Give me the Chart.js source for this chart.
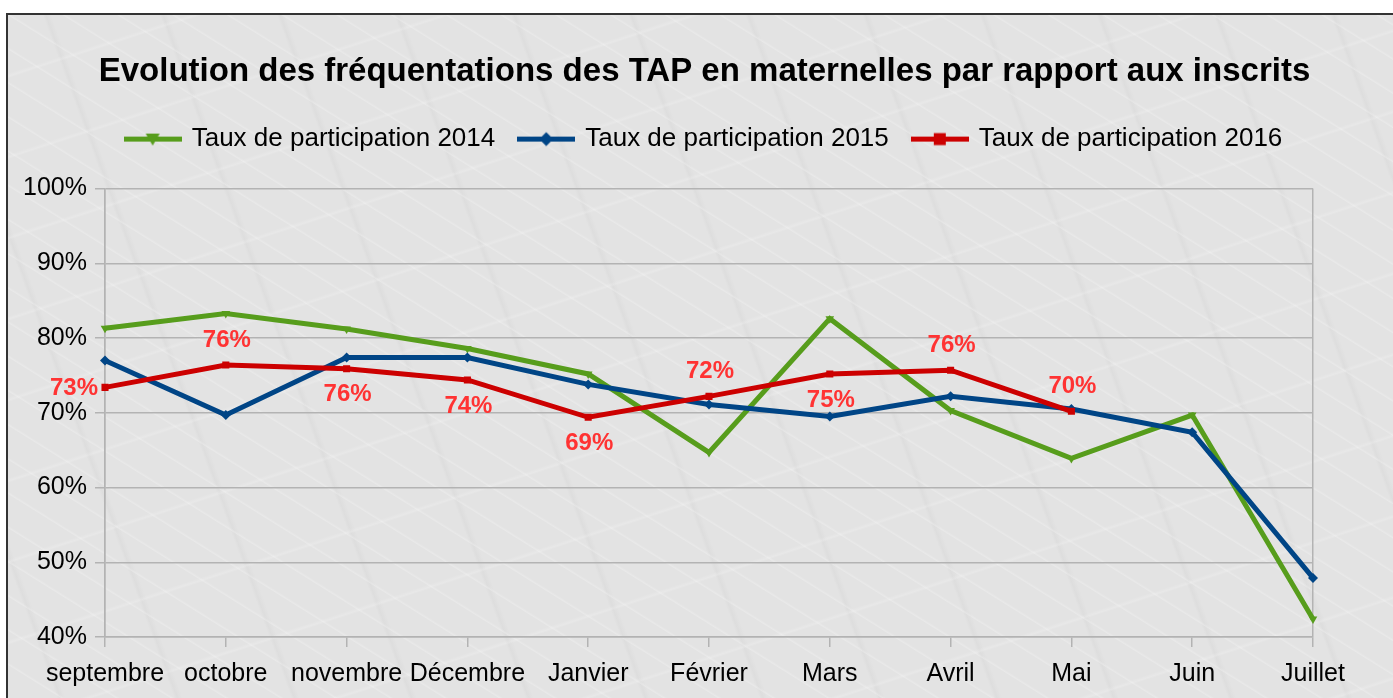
<!DOCTYPE html>
<html lang="fr">
<head>
<meta charset="utf-8">
<title>Evolution des fréquentations des TAP</title>
<script src="https://cdn.jsdelivr.net/npm/chart.js@4.4.0/dist/chart.umd.min.js"></script>
<style>
  html, body { margin: 0; padding: 0; background: #fff; }
  body { width: 1393px; height: 698px; position: relative; overflow: hidden; }
  .frame {
    position: absolute; left: 6px; top: 13px; width: 1400px; height: 700px;
    border-left: 2px solid #333; border-top: 2px solid #333;
    background-color: #e3e3e3;
    background-image:
      repeating-linear-gradient(32deg, rgba(255,255,255,0) 0 13px, rgba(255,255,255,.22) 14px, rgba(255,255,255,0) 16px 29px),
      repeating-linear-gradient(-18deg, rgba(255,255,255,0) 0 37px, rgba(255,255,255,.18) 39px, rgba(255,255,255,0) 42px 77px),
      repeating-linear-gradient(70deg, rgba(205,205,205,0) 0 52px, rgba(205,205,205,.25) 55px, rgba(205,205,205,0) 60px 110px);
  }
  .wrap { position: absolute; left: 0; top: 0; width: 1393px; height: 698px; }
</style>
</head>
<body>
<div class="frame"></div>
<div class="wrap"><canvas id="chart"></canvas></div>
<script>
// --- DATA ---
const months = ['septembre', 'octobre', 'novembre', 'Décembre', 'Janvier', 'Février',
                'Mars', 'Avril', 'Mai', 'Juin', 'Juillet'];
const taux2014 = [81.3, 83.3, 81.2, 78.6, 75.2, 64.7, 82.6, 70.3, 63.9, 69.7, 42.4];
const taux2015 = [77.0, 69.7, 77.4, 77.4, 73.8, 71.1, 69.5, 72.2, 70.5, 67.4, 47.9];
const taux2016 = [73.4, 76.4, 75.9, 74.4, 69.4, 72.2, 75.2, 75.7, 70.2, null, null];
const yMin = 40, yMax = 100, yStep = 10;
// where each 2016 value label sits relative to its point
const labelSides2016 = ['left', 'above', 'below', 'below', 'below', 'above', 'below', 'above', 'above'];

const GREEN = '#579d1c';
const BLUE = '#004586';
const RED = '#cc0000';
const GRID = '#b3b3b3';
const FONT = '"Liberation Sans", Arial, sans-serif';

Chart.defaults.font.family = FONT;
Chart.defaults.color = '#000';

// legend icon: a short line with the series marker in the middle
function legendIcon(color, shape) {
    const c = document.createElement('canvas');
    c.width = 58; c.height = 16;
    const g = c.getContext('2d');
    g.fillStyle = color;
    g.fillRect(0, 6, 58, 5);
    g.beginPath();
    if (shape === 'triangle') {
        g.moveTo(22, 3); g.lineTo(36, 3); g.lineTo(29, 15);
    } else if (shape === 'diamond') {
        g.moveTo(29, 1.5); g.lineTo(36, 8.5); g.lineTo(29, 15.5); g.lineTo(22, 8.5);
    } else {
        g.rect(23, 2.5, 12, 12);
    }
    g.closePath();
    g.fill();
    return c;
}
const legendIcons = [legendIcon(GREEN, 'triangle'), legendIcon(BLUE, 'diamond'), legendIcon(RED, 'square')];

// value labels on the 2016 series
const valueLabels = {
    id: 'valueLabels',
    afterDatasetsDraw(chart) {
        const meta = chart.getDatasetMeta(2);
        const ctx = chart.ctx;
        ctx.save();
        ctx.font = 'bold 24px ' + FONT;
        ctx.fillStyle = '#ff3333';
        ctx.textBaseline = 'middle';
        meta.data.forEach((pt, i) => {
            const v = taux2016[i];
            if (v == null) return;
            const side = labelSides2016[i];
            const txt = Math.round(v) + '%';
            if (side === 'left') {
                ctx.textAlign = 'right';
                ctx.fillText(txt, pt.x - 7, pt.y + 1);
            } else if (side === 'above') {
                ctx.textAlign = 'center';
                ctx.fillText(txt, pt.x + 1, pt.y - 25);
            } else {
                ctx.textAlign = 'center';
                ctx.fillText(txt, pt.x + 1, pt.y + 26);
            }
        });
        ctx.restore();
    }
};

// extra room between the legend and the plot, and title/legend centred over the plot
const headerLayout = {
    id: 'headerLayout',
    beforeInit(chart) {
        const fit = chart.legend.fit;
        chart.legend.fit = function () {
            fit.call(this);
            this.height += 27;
        };
    },
    afterLayout(chart) {
        [chart.titleBlock, chart.legend].forEach(b => {
            b.left += 48;
            b.right += 48;
        });
    }
};

const ctx = document.getElementById('chart').getContext('2d');
new Chart(ctx, {
    type: 'line',
    data: {
        labels: months,
        datasets: [
            {
                label: 'Taux de participation 2014', data: taux2014,
                borderColor: GREEN, backgroundColor: GREEN, borderWidth: 5,
                pointStyle: 'triangle', pointRotation: 180, pointRadius: 5, pointBorderWidth: 0,
                order: 3
            },
            {
                label: 'Taux de participation 2015', data: taux2015,
                borderColor: BLUE, backgroundColor: BLUE, borderWidth: 5,
                pointStyle: 'rectRot', pointRadius: 5, pointBorderWidth: 0,
                order: 2
            },
            {
                label: 'Taux de participation 2016', data: taux2016,
                borderColor: RED, backgroundColor: RED, borderWidth: 5,
                pointStyle: 'rect', pointRadius: 5, pointBorderWidth: 0,
                order: 1
            }
        ]
    },
    options: {
        responsive: true,
        maintainAspectRatio: false,
        animation: false,
        layout: { padding: { left: 0, right: 80, top: 14, bottom: 0 } },
        plugins: {
            title: {
                display: true,
                text: 'Evolution des fréquentations des TAP en maternelles par rapport aux inscrits',
                font: { size: 33, weight: 'bold' },
                color: '#000',
                padding: { top: 38, bottom: 9 }
            },
            legend: {
                labels: {
                    usePointStyle: true,
                    pointStyleWidth: 52,
                    font: { size: 26 },
                    color: '#000',
                    padding: 25,
                    sort: (a, b) => a.datasetIndex - b.datasetIndex,
                    generateLabels(chart) {
                        const items = Chart.defaults.plugins.legend.labels.generateLabels(chart);
                        items.forEach(it => { it.pointStyle = legendIcons[it.datasetIndex]; it.rotation = 0; });
                        return items;
                    }
                }
            },
            tooltip: { enabled: false }
        },
        scales: {
            x: {
                grid: {
                    color: c => (c.index === 0 || c.index === months.length - 1) ? GRID : 'rgba(0,0,0,0)',
                    tickColor: GRID, tickLength: 10, lineWidth: 1.5
                },
                border: { color: GRID, width: 1.5 },
                ticks: { color: '#000', font: { size: 25 }, padding: 12, maxRotation: 0, autoSkip: false },
                afterFit(s) { s.height = 61; }
            },
            y: {
                min: yMin, max: yMax,
                grid: { color: GRID, tickColor: GRID, tickLength: 10, lineWidth: 1.5 },
                border: { color: GRID, width: 1.5 },
                ticks: { stepSize: yStep, color: '#000', font: { size: 25 }, padding: 8, callback: v => v + '%' },
                afterFit(s) { s.width = 105; }
            }
        }
    },
    plugins: [valueLabels, headerLayout]
});
</script>
</body>
</html>
